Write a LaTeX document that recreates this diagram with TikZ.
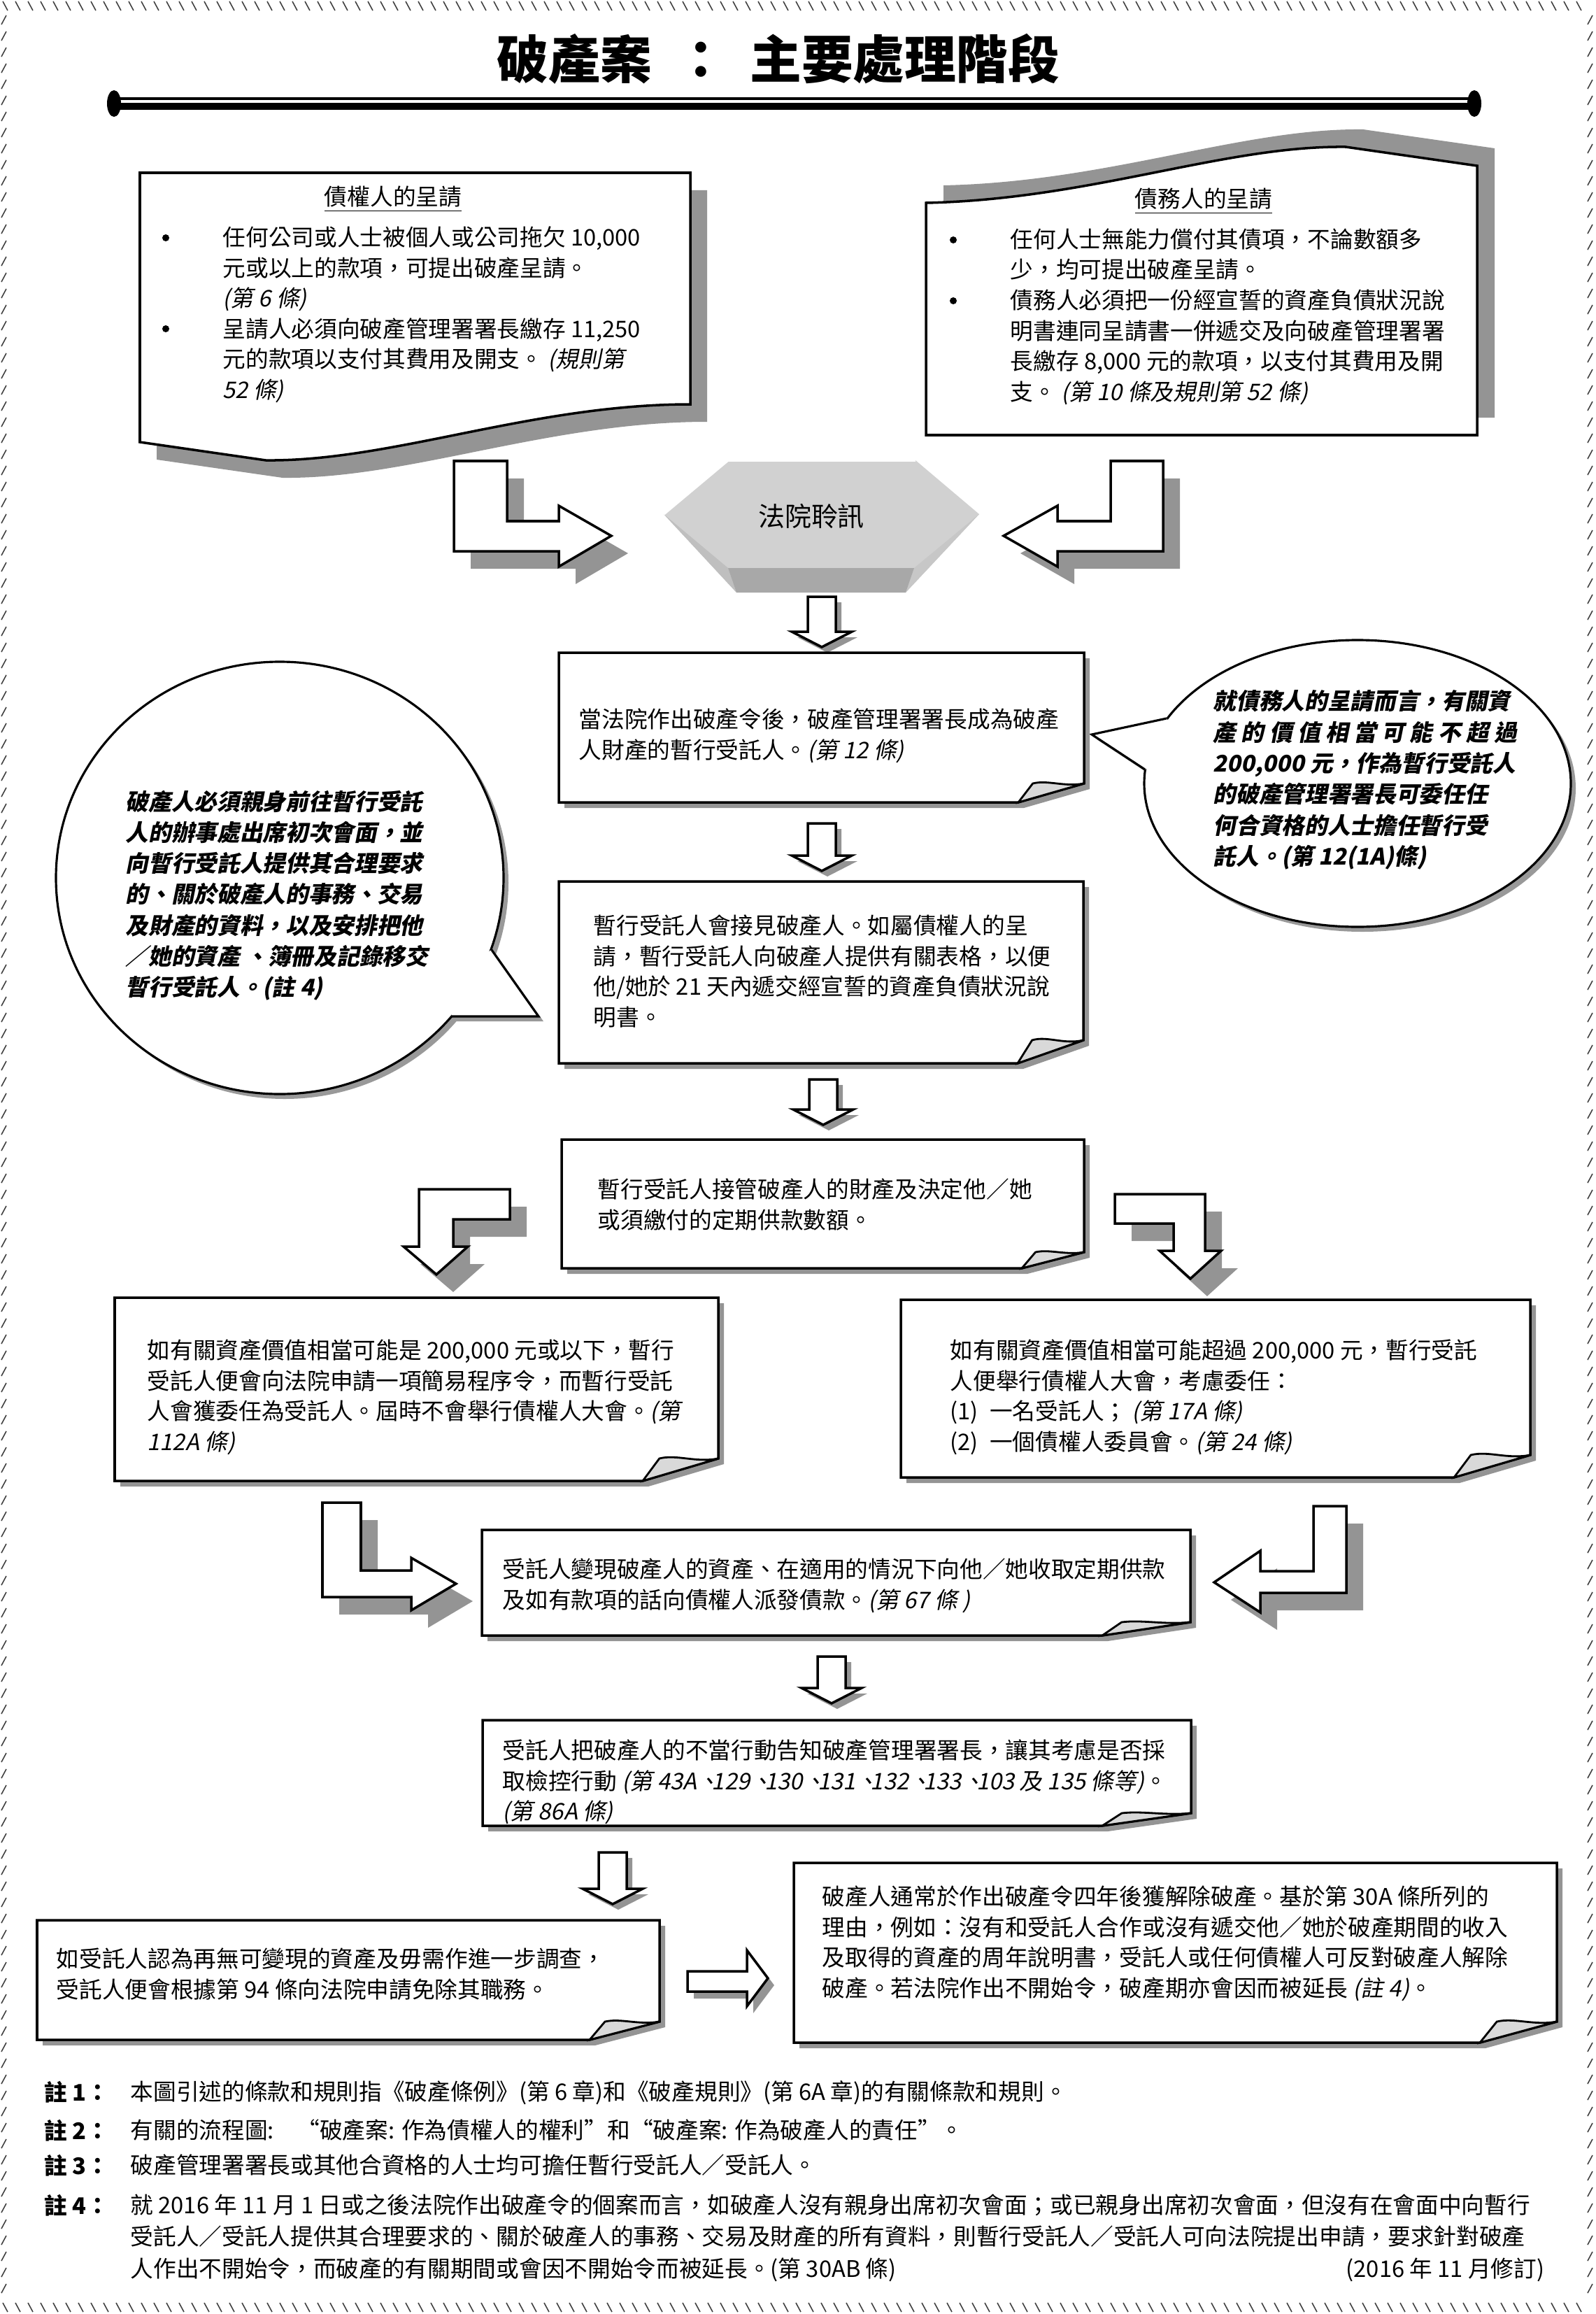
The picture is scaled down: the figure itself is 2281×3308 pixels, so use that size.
\documentclass[tikz,border=0pt]{standalone}
\usepackage{fontspec}
\setmainfont{Noto Sans CJK TC}
\newfontfamily\cjkit[FakeSlant=0.2]{Noto Sans CJK TC}
\newcommand\clause[1]{{\cjkit #1}}
\newcommand\dunhao{、\hspace{-0.35em}}

\tikzset{
    txt/.style={anchor=north west, inner sep=0pt, align=left, font=\fontsize{9.3}{12.4}\selectfont},
    bubbletxt/.style={txt, font=\fontsize{9.3}{12.6}\selectfont\cjkit\bfseries},
    notelabel/.style={txt, font=\fontsize{9.3}{12.9}\selectfont\bfseries},
    notetxt/.style={txt, font=\fontsize{9.3}{12.9}\selectfont},
    dot/.style={circle, fill=black, inner sep=0pt, minimum size=1mm},
    outline/.style={draw=black, line width=1pt, fill=white},
    bubbleline/.style={draw=black, line width=0.9pt},
    flap/.style={draw=black, line width=0.8pt, fill=black!15},
    bigshadow/.style={preaction={fill=black!42, draw=none, transform canvas={shift={(2.4mm,-2.5mm)}}}},
    smallshadow/.style={preaction={fill=black!42, draw=none, transform canvas={shift={(0.8mm,-0.8mm)}}}},
    hatch/.style={draw=black!75, line width=0.45pt},
}

\begin{document}
\begin{tikzpicture}[x=0.1mm, y=-0.1mm, line join=miter]

\useasboundingbox (0,0) rectangle (2281,3308);

\foreach \x in {4,22,...,2270} {
    \draw[hatch] (\x,2) -- ++(7,13);
    \draw[hatch] (\x,3292) -- ++(7,13);
}
\foreach \y in {22,45,...,3275} {
    \draw[hatch] (2,\y+13) -- ++(7,-13);
    \draw[hatch] (2270,\y+13) -- ++(7,-13);
}

\node[font=\fontsize{21}{24}\selectfont\bfseries] (title) at (1113,84) {破產案\hspace{0.45em}：\hspace{0.45em}主要處理階段};
\draw[line width=0.9pt] (165,141) -- (2108,141);
\draw[line width=2.9pt] (165,152) -- (2108,152);
\fill (163,148) ellipse (1mm and 1.9mm);
\fill (2108,148) ellipse (1mm and 1.9mm);

\draw[outline, bigshadow] (200,247) -- (987,247) -- (987,578) .. controls (760,578) and (560,660) .. (380,658) -- (200,632) -- cycle;
\draw[outline, preaction={fill=black!42, draw=none, transform canvas={shift={(2.5mm,2.5mm)}}}] (1324,622) -- (2112,622) -- (2112,237) -- (1924,210) .. controls (1750,208) and (1560,285) .. (1324,290) -- cycle;

\node[txt, anchor=center] (credhead) at (562,285) {\underline{債權人的呈請}};
\node[dot] (credbul1) at (237,340) {};
\node[dot] (credbul2) at (237,470) {};
\node[txt] (credtext) at (318,323) {任何公司或人士被個人或公司拖欠 10,000\\元或以上的款項，可提出破產呈請。\\\clause{(第 6 條)}\\呈請人必須向破產管理署署長繳存 11,250\\元的款項以支付其費用及開支。 \clause{(規則第}\\\clause{52 條)}};

\node[txt, anchor=center] (debthead) at (1721,288) {\underline{債務人的呈請}};
\node[dot] (debtbul1) at (1363,343) {};
\node[dot] (debtbul2) at (1363,430) {};
\node[txt] (debttext) at (1444,326) {任何人士無能力償付其債項，不論數額多\\少，均可提出破產呈請。\\債務人必須把一份經宣誓的資產負債狀況說\\明書連同呈請書一併遞交及向破產管理署署\\長繳存 8,000 元的款項，以支付其費用及開\\支。 \clause{(第 10 條及規則第 52 條)}};

\fill[black!18] (949,735) -- (1041,658) -- (1309,658) -- (1400,735) -- (1295,847) -- (1053,847) -- cycle;
\fill[black!25] (949,735) -- (1041,812) -- (1053,847) -- cycle;
\fill[black!22] (1400,735) -- (1307,812) -- (1295,847) -- cycle;
\fill[black!34] (1041,812) -- (1307,812) -- (1295,847) -- (1053,847) -- cycle;
\draw[white, line width=1pt] (949,735) -- (1041,658) -- (1309,658);
\node[font=\fontsize{10.8}{13}\selectfont] (court) at (1160,738) {法院聆訊};

\draw[outline, bigshadow] (649,659) -- (725,659) -- (725,745) -- (799,745) -- (799,723) -- (874,766) -- (799,810) -- (799,788) -- (649,788) -- cycle;
\draw[outline, bigshadow] (1588,659) -- (1663,659) -- (1663,788) -- (1512,788) -- (1512,810) -- (1435,766) -- (1512,723) -- (1512,745) -- (1588,745) -- cycle;

\foreach \cx/\ya/\yb/\yc in {1175/853/903/925, 1175/1177/1223/1245, 1177/1543/1586/1608, 1189/2368/2413/2435, 876/2648/2700/2722}
    \draw[outline, smallshadow] (\cx-20,\ya) -- (\cx+20,\ya) -- (\cx+20,\yb) -- (\cx+43,\yb) -- (\cx,\yc) -- (\cx-43,\yb) -- (\cx-20,\yb) -- cycle;

\begin{scope}[shift={(7,7)}, black!40]
    \fill (1941,1120) ellipse (30.5mm and 20.5mm);
    \fill (1668,1027) -- (1561,1050) -- (1637,1100) -- (1700,1070) -- cycle;
    \fill (400,1255) ellipse (32mm and 30.9mm);
    \fill (703,1358) -- (770,1453) -- (646,1453) -- (640,1390) -- cycle;
\end{scope}
\draw[bubbleline, fill=white] (1941,1120) ellipse (30.5mm and 20.5mm);
\fill[white] (1668,1027) -- (1561,1050) -- (1637,1100) -- (1700,1070) -- cycle;
\draw[bubbleline] (1668,1027) -- (1561,1050) -- (1637,1100);
\draw[bubbleline, fill=white] (400,1255) ellipse (32mm and 30.9mm);
\fill[white] (703,1358) -- (770,1453) -- (646,1453) -- (640,1390) -- cycle;
\draw[bubbleline] (703,1358) -- (770,1453) -- (646,1453);

\foreach \xa/\ya/\xb/\yb/\fx/\fy in {799/933/1550/1147/94/27, 799/1260/1549/1520/94/33, 803/1629/1550/1813/89/23, 164/1855/1027/2117/108/32, 1288/1858/2188/2112/109/32, 689/2187/1702/2338/126/19, 690/2459/1703/2610/127/18, 53/2745/943/2916/100/26, 1135/2663/2226/2920/110/30} {
    \draw[outline, smallshadow] (\xa,\ya) -- (\xb,\ya) -- (\xb,\yb-\fy) -- (\xb-\fx,\yb) -- (\xa,\yb) -- cycle;
    \draw[flap] (\xb-\fx,\yb) -- (\xb-0.78*\fx,\yb-\fy) .. controls (\xb-0.55*\fx,\yb-1.2*\fy) and (\xb-0.3*\fx,\yb-0.8*\fy) .. (\xb,\yb-\fy) -- cycle;
}

\draw[outline, bigshadow] (599,1700) -- (729,1700) -- (729,1743) -- (648,1743) -- (648,1782) -- (669,1782) -- (624,1822) -- (577,1782) -- (599,1782) -- cycle;
\draw[outline, bigshadow] (1594,1707) -- (1723,1707) -- (1723,1788) -- (1746,1788) -- (1702,1828) -- (1658,1788) -- (1678,1788) -- (1678,1749) -- (1594,1749) -- cycle;
\draw[outline, bigshadow] (461,2148) -- (516,2148) -- (516,2245) -- (588,2245) -- (588,2227) -- (652,2264) -- (588,2302) -- (588,2283) -- (461,2283) -- cycle;
\draw[outline, bigshadow] (1878,2153) -- (1925,2153) -- (1925,2277) -- (1802,2277) -- (1802,2305) -- (1736,2262) -- (1802,2217) -- (1802,2246) -- (1878,2246) -- cycle;
\draw[outline, preaction={fill=black!42, draw=none, transform canvas={shift={(0.9mm,-1mm)}}}] (983,2818) -- (1068,2818) -- (1068,2788) -- (1098,2828) -- (1068,2868) -- (1068,2847) -- (983,2847) -- cycle;

\node[txt] (order) at (827,1012) {當法院作出破產令後，破產管理署署長成為破產\\人財產的暫行受託人。\clause{(第 12 條)}};
\node[bubbletxt] (smallcase) at (1734,986) {就債務人的呈請而言，有關資\\產 的 價 值 相 當 可 能 不 超 過\\200,000 元，作為暫行受託人\\的破產管理署署長可委任任\\何合資格的人士擔任暫行受\\託人。(第 12(1A)條)};
\node[bubbletxt] (duty) at (179,1129) {破產人必須親身前往暫行受託\\人的辦事處出席初次會面，並\\向暫行受託人提供其合理要求\\的、關於破產人的事務、交易\\及財產的資料，以及安排把他\\／她的資產 、簿冊及記錄移交\\暫行受託人。(註 4)};
\node[txt] (interview) at (848,1307) {暫行受託人會接見破產人。如屬債權人的呈\\請，暫行受託人向破產人提供有關表格，以便\\他/她於 21 天內遞交經宣誓的資產負債狀況說\\明書。};
\node[txt] (takeover) at (854,1684) {暫行受託人接管破產人的財產及決定他／她\\或須繳付的定期供款數額。};
\node[txt] (summary) at (210,1914) {如有關資產價值相當可能是 200,000 元或以下，暫行\\受託人便會向法院申請一項簡易程序令，而暫行受託\\人會獲委任為受託人。屆時不會舉行債權人大會。\clause{(第}\\\clause{112A 條)}};
\node[txt] (meeting) at (1358,1914) {如有關資產價值相當可能超過 200,000 元，暫行受託\\人便舉行債權人大會，考慮委任：\\(1)\enspace 一名受託人； \clause{(第 17A 條)}\\(2)\enspace 一個債權人委員會。\clause{(第 24 條)}};
\node[txt] (realise) at (718,2227) {受託人變現破產人的資產、在適用的情況下向他／她收取定期供款\\及如有款項的話向債權人派發債款。\clause{(第 67 條 )}};
\node[txt] (report) at (718,2486) {受託人把破產人的不當行動告知破產管理署署長，讓其考慮是否採\\取檢控行動 \clause{(第 43A\dunhao 129\dunhao 130\dunhao 131\dunhao 132\dunhao 133\dunhao 103 及 135 條等)}。\\\clause{(第 86A 條)}};
\node[txt] (release) at (80,2784) {如受託人認為再無可變現的資產及毋需作進一步調查，\\受託人便會根據第 94 條向法院申請免除其職務。};
\node[txt] (discharge) at (1175,2695) {破產人通常於作出破產令四年後獲解除破產。基於第 30A 條所列的\\理由，例如：沒有和受託人合作或沒有遞交他／她於破產期間的收入\\及取得的資產的周年說明書，受託人或任何債權人可反對破產人解除\\破產。若法院作出不開始令，破產期亦會因而被延長 \clause{(註 4)}。};

\node[notelabel] (lab1) at (63,2974) {註 1：};
\node[notetxt] (note1) at (186,2974) {本圖引述的條款和規則指《破產條例》(第 6 章)和《破產規則》(第 6A 章)的有關條款和規則。};
\node[notelabel] (lab2) at (63,3029) {註 2：};
\node[notetxt] (note2) at (186,3029) {有關的流程圖:\quad “破產案: 作為債權人的權利”和“破產案: 作為破產人的責任”。};
\node[notelabel] (lab3) at (63,3079) {註 3：};
\node[notetxt] (note3) at (186,3079) {破產管理署署長或其他合資格的人士均可擔任暫行受託人／受託人。};
\node[notelabel] (lab4) at (63,3136) {註 4：};
\node[notetxt] (note4) at (186,3136) {就 2016 年 11 月 1 日或之後法院作出破產令的個案而言，如破產人沒有親身出席初次會面；或已親身出席初次會面，但沒有在會面中向暫行\\受託人／受託人提供其合理要求的、關於破產人的事務、交易及財產的所有資料，則暫行受託人／受託人可向法院提出申請，要求針對破產\\人作出不開始令，而破產的有關期間或會因不開始令而被延長。(第 30AB 條)};
\node[notetxt, anchor=north east] (revised) at (2209,3227) {(2016 年 11 月修訂)};

\end{tikzpicture}
\end{document}
